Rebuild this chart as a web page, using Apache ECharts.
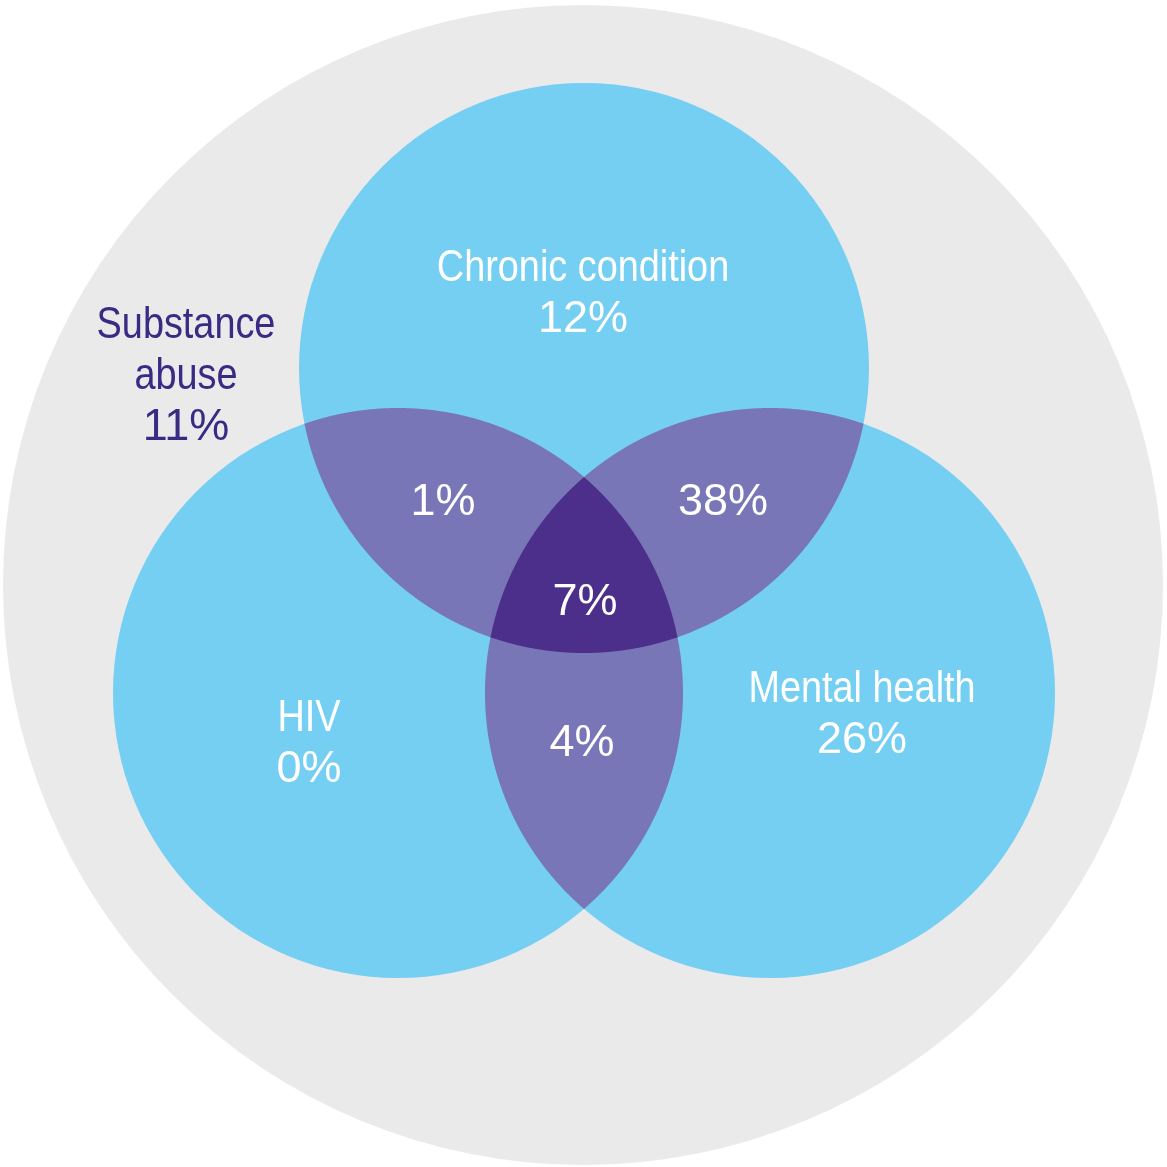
<!DOCTYPE html>
<html>
<head>
<meta charset="utf-8">
<script src="https://cdn.jsdelivr.net/npm/echarts@6/dist/echarts.min.js"></script>
<style>
  html, body { margin: 0; padding: 0; background: #ffffff; }
  #chart { width: 1167px; height: 1167px; }
</style>
</head>
<body>
<div id="chart"></div>
<script>
// Share of clients by condition group
const setNames = ['Chronic condition', 'HIV', 'Mental health'];
const setOnlyValues = [12, 0, 26];
// pairs: Chronic & HIV, Chronic & Mental health, HIV & Mental health
const pairValues = [1, 38, 4];
const allThreeValue = 7;
const outerNameLines = ['Substance', 'abuse'];
const outerValue = 11;

// Diagram geometry in chart units (0..1167 on both axes, y downward)
const outerCircle = { cx: 583, cy: 585, r: 580 };
const setCircles = [
  { cx: 584, cy: 368, r: 285 },
  { cx: 398, cy: 693, r: 285 },
  { cx: 770, cy: 693, r: 285 }
];
const pairMembers = [[0, 1], [0, 2], [1, 2]];
const setLabelPos = [[583, 269], [309, 719], [862, 690]];
const pairLabelPos = [[443, 503], [723, 503], [582, 744]];
const centerLabelPos = [585, 603];
const outerLabelPos = [186, 326];
const lineGap = 51;

const colors = {
  outer: '#EAEAEB',
  set: '#74CFF2',
  pair: '#7876B7',
  all: '#4B2F8A',
  outerText: '#3B2A84',
  innerText: '#FFFFFF'
};
const labelFont = '"Liberation Sans", Arial, sans-serif';
const nameSize = 44;
const valueSize = 45;
const nameCondense = 0.86; // condensed face for the group names

// Boundary of the intersection of several circles, as a sorted ring of points
function insideAll(list, skip, x, y) {
  return list.every((c, j) => {
    if (j === skip) return true;
    const dx = x - c.cx, dy = y - c.cy;
    return dx * dx + dy * dy <= (c.r + 0.5) * (c.r + 0.5);
  });
}
function intersectionOutline(list) {
  const pts = [];
  const N = 2880;
  list.forEach((c, i) => {
    for (let k = 0; k < N; k++) {
      const a = (2 * Math.PI * k) / N;
      const x = c.cx + c.r * Math.cos(a);
      const y = c.cy + c.r * Math.sin(a);
      if (insideAll(list, i, x, y)) pts.push([x, y]);
    }
  });
  // exact corner points where two boundaries cross
  for (let i = 0; i < list.length; i++) {
    for (let j = i + 1; j < list.length; j++) {
      const A = list[i], B = list[j];
      const dx = B.cx - A.cx, dy = B.cy - A.cy;
      const d = Math.hypot(dx, dy);
      const a = (d * d + A.r * A.r - B.r * B.r) / (2 * d);
      const h = Math.sqrt(Math.max(0, A.r * A.r - a * a));
      const mx = A.cx + (a * dx) / d, my = A.cy + (a * dy) / d;
      [[mx + (h * dy) / d, my - (h * dx) / d], [mx - (h * dy) / d, my + (h * dx) / d]].forEach(p => {
        if (list.every((c, k) => k === i || k === j || Math.hypot(p[0] - c.cx, p[1] - c.cy) <= c.r + 0.5)) pts.push(p);
      });
    }
  }
  const mx = pts.reduce((s, p) => s + p[0], 0) / pts.length;
  const my = pts.reduce((s, p) => s + p[1], 0) / pts.length;
  pts.sort((p, q) => Math.atan2(p[1] - my, p[0] - mx) - Math.atan2(q[1] - my, q[0] - mx));
  return { pts, cx: mx, cy: my };
}

// Shape layers, drawn in order: outer set, three sets, pair overlaps, triple overlap
const regions = [];
regions.push({ kind: 'circle', c: outerCircle, fill: colors.outer });
setCircles.forEach(c => regions.push({ kind: 'circle', c, fill: colors.set }));
pairMembers.forEach(m => {
  const o = intersectionOutline(m.map(i => setCircles[i]));
  regions.push({ kind: 'poly', o, fill: colors.pair });
});
regions.push({ kind: 'poly', o: intersectionOutline(setCircles), fill: colors.all });

const shapeData = regions.map(r => r.kind === 'circle' ? [r.c.cx, r.c.cy] : [r.o.cx, r.o.cy]);

// Text labels
const labels = [];
setNames.forEach((name, i) => {
  labels.push({ value: setLabelPos[i], text: name, color: colors.innerText, name: true });
  labels.push({ value: [setLabelPos[i][0], setLabelPos[i][1] + lineGap], text: setOnlyValues[i] + '%', color: colors.innerText });
});
pairValues.forEach((v, i) => {
  labels.push({ value: pairLabelPos[i], text: v + '%', color: colors.innerText });
});
labels.push({ value: centerLabelPos, text: allThreeValue + '%', color: colors.innerText });
outerNameLines.forEach((line, i) => {
  labels.push({ value: [outerLabelPos[0], outerLabelPos[1] + i * lineGap], text: line, color: colors.outerText, name: true });
});
labels.push({ value: [outerLabelPos[0], outerLabelPos[1] + outerNameLines.length * lineGap], text: outerValue + '%', color: colors.outerText });

const chart = echarts.init(document.getElementById('chart'), null, { renderer: 'canvas' });
chart.setOption({
  backgroundColor: '#ffffff',
  animation: false,
  grid: { left: 0, right: 0, top: 0, bottom: 0 },
  xAxis: { type: 'value', min: 0, max: 1167, show: false },
  yAxis: { type: 'value', min: 0, max: 1167, inverse: true, show: false },
  series: [
    {
      type: 'custom',
      coordinateSystem: 'cartesian2d',
      clip: false,
      silent: true,
      data: shapeData,
      renderItem: function (params, api) {
        const r = regions[params.dataIndex];
        if (r.kind === 'circle') {
          const c = api.coord([r.c.cx, r.c.cy]);
          const rad = api.size([r.c.r, r.c.r])[0];
          return { type: 'circle', shape: { cx: c[0], cy: c[1], r: rad }, style: { fill: r.fill } };
        }
        return {
          type: 'polygon',
          shape: { points: r.o.pts.map(p => api.coord(p)) },
          style: { fill: r.fill }
        };
      }
    },
    {
      type: 'custom',
      coordinateSystem: 'cartesian2d',
      clip: false,
      silent: true,
      data: labels.map(l => l.value),
      renderItem: function (params, api) {
        const l = labels[params.dataIndex];
        const p = api.coord(l.value);
        return {
          type: 'text',
          x: p[0],
          y: p[1],
          scaleX: l.name ? nameCondense : 1,
          style: {
            text: l.text,
            fill: l.color,
            fontSize: l.name ? nameSize : valueSize,
            fontFamily: labelFont,
            align: 'center',
            verticalAlign: 'middle'
          }
        };
      }
    }
  ]
});
</script>
</body>
</html>
